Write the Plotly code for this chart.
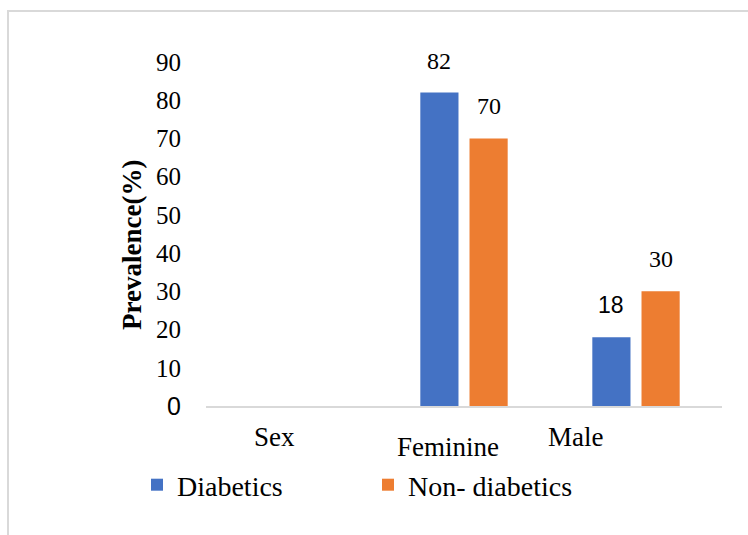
import plotly.graph_objects as go

# Data
categories = ["Sex", "Feminine", "Male"]
diabetics = [None, 82, 18]
non_diabetics = [None, 70, 30]
series_names = ["Diabetics", "Non- diabetics"]
tick_values = [0, 10, 20, 30, 40, 50, 60, 70, 80, 90]
tick_labels = ["<span style='font-family:Liberation Sans, Arial, sans-serif'>0</span>",
               "10", "20", "30", "40", "50", "60", "70", "80", "90"]
y_title = "Prevalence(%)"

BLUE = "#4472C4"
ORANGE = "#ED7D31"
SERIF = "Liberation Serif, Times New Roman, serif"
SANS = "Liberation Sans, Arial, sans-serif"

W, H = 748, 535
ML, MR, MT, MB = 206, 26, 62, 129
PW, PH = W - ML - MR, H - MT - MB

fig = go.Figure()
fig.add_trace(go.Bar(x=categories, y=diabetics, name=series_names[0],
                     marker=dict(color=BLUE, line=dict(width=0))))
fig.add_trace(go.Bar(x=categories, y=non_diabetics, name=series_names[1],
                     marker=dict(color=ORANGE, line=dict(width=0))))


def px_x(p):
    return (p - ML) / PW


def px_y(p):
    return (H - MB - p) / PH


# value labels floating above each bar
slot = PW / len(categories) * (1 - 0.428) / 2
annotations = []
for vals, dx in ((diabetics, -slot / 2), (non_diabetics, slot / 2)):
    for cat, v in zip(categories, vals):
        if v is None:
            continue
        fam = SANS if v == 18 else SERIF
        size = 23 if v == 18 else 24
        annotations.append(dict(x=cat, y=v, text=str(v), showarrow=False,
                                xshift=dx, yshift=32, yanchor="middle",
                                font=dict(family=fam, size=size, color="#000")))

# category labels under the axis
cat_shift = {"Sex": (-18, -31), "Feminine": (-16, -41), "Male": (-61, -31)}
for cat in categories:
    dx, dy = cat_shift[cat]
    annotations.append(dict(x=cat, y=0, text=cat, showarrow=False,
                            xshift=dx, yshift=dy, yanchor="middle",
                            font=dict(family=SERIF, size=27, color="#000")))

# rotated y-axis title
annotations.append(dict(x=px_x(132), y=px_y(245), xref="paper", yref="paper",
                        text="<b>" + y_title + "</b>", textangle=-90,
                        showarrow=False, xanchor="center", yanchor="middle",
                        font=dict(family=SERIF, size=27, color="#000")))

# light frame around the chart area
shapes = [dict(type="rect", xref="paper", yref="paper",
               x0=px_x(8), x1=px_x(760), y0=px_y(545), y1=px_y(11),
               line=dict(color="#D9D9D9", width=2), fillcolor="rgba(0,0,0,0)",
               layer="below")]

fig.update_layout(
    width=W, height=H,
    margin=dict(l=ML, r=MR, t=MT, b=MB),
    paper_bgcolor="white", plot_bgcolor="white",
    barmode="group", bargap=0.428, bargroupgap=0.224,
    font=dict(family=SERIF, color="#000"),
    showlegend=True,
    legend=dict(orientation="h", x=px_x(137), y=px_y(485), xanchor="left",
                yanchor="middle", font=dict(family=SERIF, size=28, color="#000"),
                entrywidth=186, bgcolor="rgba(0,0,0,0)", traceorder="normal"),
    xaxis=dict(showticklabels=False, showline=True, linecolor="#D9D9D9",
               linewidth=1.5, ticks="", showgrid=False, zeroline=False,
               fixedrange=True),
    yaxis=dict(range=[0, 90], tickmode="array", tickvals=tick_values,
               ticktext=tick_labels, showgrid=False, zeroline=False,
               showline=False, ticks="", ticklabelstandoff=24,
               tickfont=dict(family=SERIF, size=25, color="#000")),
    annotations=annotations,
    shapes=shapes,
)

fig.write_html("out.html")
